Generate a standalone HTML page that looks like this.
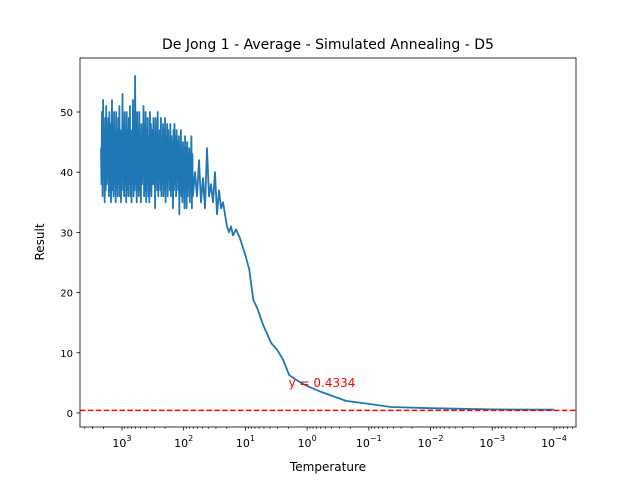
<!DOCTYPE html>
<html><head><meta charset="utf-8">
<style>
body{margin:0;background:#fff;}
svg{font-family:"DejaVu Sans","Liberation Sans",sans-serif;}
</style></head>
<body>
<svg id="chart" width="640" height="480" viewBox="0 0 640 480" xmlns="http://www.w3.org/2000/svg">
<rect width="640" height="480" fill="#fff"/>
<text x="328" y="49" font-size="14" text-anchor="middle">De Jong 1 - Average - Simulated Annealing - D5</text>
<g id="plot"></g>
<rect x="80" y="58" width="496" height="369" fill="none" stroke="#000" stroke-width="0.8"/>
<text x="328" y="471" font-size="12" text-anchor="middle">Temperature</text>
<text x="44" y="242" font-size="12" text-anchor="middle" transform="rotate(-90 44 242)">Result</text>
</svg>
<script>
const denseResults=[44,38,50,36,52,40,47,35,49,37,51,38,46,39,49,36,50,37,48,35,
42,52,37,48,36,50,38,45,35,50,37,47,36,49,38,51,36,47,35,46,
39,53,37,48,36,50,38,45,35,50,37,47,36,49,38,51,36,47,35,46,
38,52,36,49,37,56,38,45,35,50,37,47,36,50,37,46,35,48,38,44,
40,51,36,48,37,50,35,47,38,49,36,46,35,50,37,48,36,47,38,45,
49,38,46,34,49,39,45,37,50,36,44,39,47,37,49,36,45,38,48,36,
47,37,49,35,46,38,48,36,47,39,44,37,48,36,46,38,45,34,47,37,
48,38,46,36,47,39,45,37,46,33,44,38,47,36,43,35,45,38,44,34,
46,37,44,34,45,36,43,38,44,35,42,37,46,34,43,36];
const midLogT=[1.817,1.784,1.752,1.719,1.687,1.655,1.622,1.590,1.557,1.525,1.492,1.460,1.428,1.395,1.363,1.330,1.298,1.266,1.233,1.201,1.153,1.088];
const midResults=[40,36,42,35,39,34,44,36,38,35,40,33,37,34,35,33,31,30,31,29.5,30.5,29];
const tailLogT=[1.0,0.937,0.872,0.808,0.711,0.582,0.485,0.388,0.291,0.097,0,-0.226,-0.63,-1,-1.357,-2,-3,-4];
const tailResults=[26.2,23.8,18.8,17.4,14.6,11.6,10.5,8.8,6.3,5,4.5,3.5,2,1.5,1,0.8,0.6,0.55];
const refValue=0.4334;
const xTickExps=[3,2,1,0,-1,-2,-3,-4];
const yTicks=[0,10,20,30,40,50];

const NS="http://www.w3.org/2000/svg";
const L=80,R=576,T=58,B=427;
const xMin=3.68,xMax=-4.357;
const yMin=-2.33,yMax=58.97;
function xs(lt){return L+(lt-xMin)/(xMax-xMin)*(R-L);}
function ys(v){return B-(v-yMin)/(yMax-yMin)*(B-T);}
const g=document.getElementById('plot');
function mk(tag,attrs){const e=document.createElementNS(NS,tag);for(const k in attrs)e.setAttribute(k,attrs[k]);g.appendChild(e);return e;}

const logT=[],res=[];
const n=denseResults.length;
for(let i=0;i<n;i++){logT.push(3.34-(3.34-1.85)*i/(n-1));res.push(denseResults[i]);}
for(let i=0;i<midLogT.length;i++){logT.push(midLogT[i]);res.push(midResults[i]);}
for(let i=0;i<tailLogT.length;i++){logT.push(tailLogT[i]);res.push(tailResults[i]);}

yTicks.forEach(v=>{
  const y=ys(v);
  const t=mk('line',{x1:L-3.5,x2:L,y1:y,y2:y,stroke:'#000','stroke-width':0.8});
  
  
  const tx=mk('text',{x:L-7,y:y+4,'font-size':10,'text-anchor':'end'});
  tx.textContent=v;
  
  
});
function minor(lt){
  if(lt>xMin||lt<xMax) return;
  const mx=xs(lt);
  const mt=mk('line',{x1:mx,x2:mx,y1:B,y2:B+2,stroke:'#000','stroke-width':0.6});
  
  
}
xTickExps.forEach(e=>{
  const x=xs(e);
  const t=mk('line',{x1:x,x2:x,y1:B,y2:B+3.5,stroke:'#000','stroke-width':0.8});
  
  
  const tx=mk('text',{x:x,y:B+20,'font-size':11,'text-anchor':'middle'});
  
  
  const s=e<0?'\u2212'+(-e):''+e;
  tx.innerHTML='10<tspan dy="-6" font-size="8">'+s+'</tspan>';
  for(let m=2;m<=9;m++) minor(e+Math.log10(m));
});
for(let m=2;m<=9;m++){minor(3+Math.log10(m));minor(-5+Math.log10(m));}

let d='';
for(let i=0;i<logT.length;i++){d+=(i?'L':'M')+xs(logT[i]).toFixed(1)+','+ys(res[i]).toFixed(1);}
const p=mk('path',{d:d,fill:'none',stroke:'#1f77b4','stroke-width':1.8,'stroke-linejoin':'round'});



const ry=ys(refValue);
const rl=mk('line',{x1:L,x2:R,y1:ry,y2:ry,stroke:'red','stroke-width':1.5,'stroke-dasharray':'5.5,2.4'});


const rt=mk('text',{x:xs(0.3),y:ys(5)+4,'font-size':12,fill:'red'});
rt.textContent='y = '+refValue;


</script>
</body></html>
